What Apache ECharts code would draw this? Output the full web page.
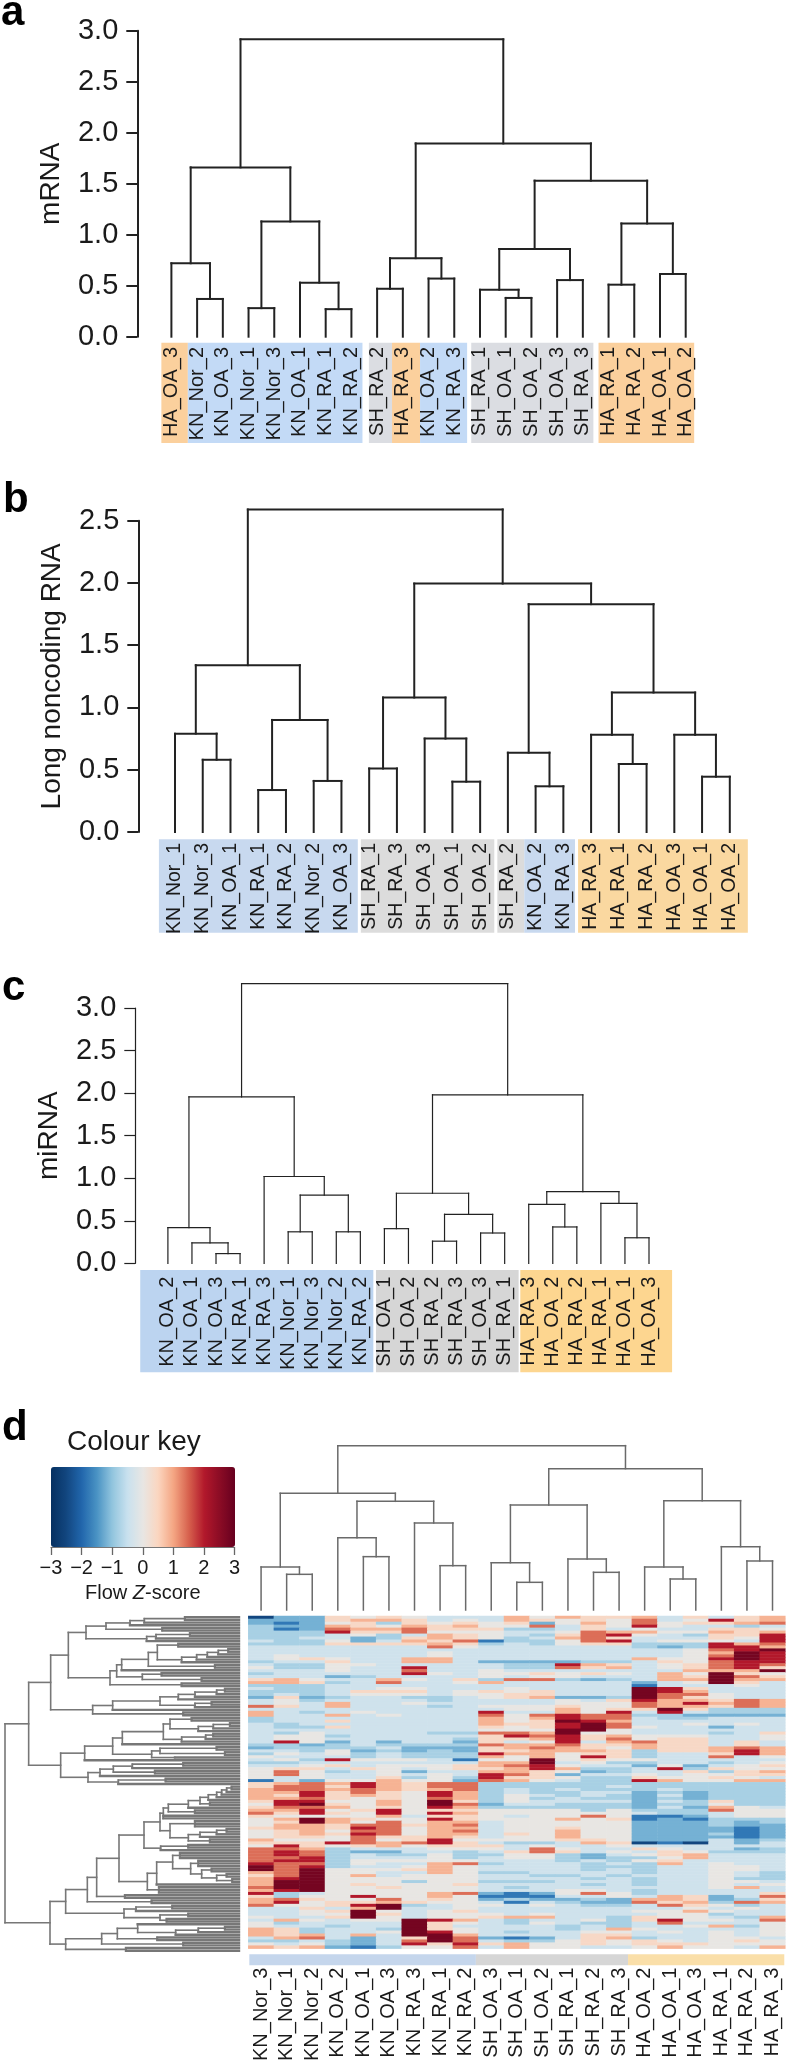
<!DOCTYPE html>
<html><head><meta charset="utf-8">
<style>html,body{margin:0;padding:0;background:#fff}#c{width:786px;height:2064px}</style>
<script src="https://cdn.jsdelivr.net/npm/echarts@6/dist/echarts.min.js"></script></head>
<body><div id="c"></div>
<script>
// ---------- Panel a ----------
const leavesA=['HA_OA_3','KN_Nor_2','KN_OA_3','KN_Nor_1','KN_Nor_3','KN_OA_1','KN_RA_1','KN_RA_2','SH_RA_2','HA_RA_3','KN_OA_2','KN_RA_3','SH_RA_1','SH_OA_1','SH_OA_2','SH_OA_3','SH_RA_3','HA_RA_1','HA_RA_2','HA_OA_1','HA_OA_2'];
// tree nodes: [height, child, child...]; a bare number n means n leaves
const treeA=[2.915,[1.66,[.72,1,[.37,2]],[1.13,[.28,2],[.53,1,[.27,2]]]],[1.895,[.77,[.47,2],[.57,2]],[1.53,[.86,[.46,1,[.38,2]],[.555,2]],[1.11,[.51,2],[.615,2]]]]];
const stripA=[[-.39,.64,2],[.64,7.43,0],[7.68,8.58,1],[8.58,9.67,2],[9.67,11.5,0],[11.66,16.41,1],[16.61,20.33,2]];
// ---------- Panel b ----------
const leavesB=['KN_Nor_1','KN_Nor_3','KN_OA_1','KN_RA_1','KN_RA_2','KN_Nor_2','KN_OA_3','SH_RA_1','SH_RA_3','SH_OA_3','SH_OA_1','SH_OA_2','SH_RA_2','KN_OA_2','KN_RA_3','HA_RA_3','HA_RA_1','HA_RA_2','HA_OA_3','HA_OA_1','HA_OA_2'];
const treeB=[2.59,[1.34,[.79,1,[.58,2]],[.9,[.337,2],[.41,2]]],[1.995,[1.08,[.51,2],[.75,1,[.404,2]]],[1.83,[.637,1,[.367,2]],[1.12,[.78,1,[.546,2]],[.78,1,[.444,2]]]]]];
const stripB=[[-.58,6.59,0],[6.7,11.51,1],[11.62,12.59,1],[12.59,14.42,0],[14.53,20.65,2]];
// ---------- Panel c ----------
const leavesC=['KN_OA_2','KN_OA_1','KN_OA_3','KN_RA_1','KN_RA_3','KN_Nor_1','KN_Nor_3','KN_Nor_2','KN_RA_2','SH_OA_1','SH_OA_2','SH_RA_2','SH_RA_3','SH_OA_3','SH_RA_1','HA_RA_3','HA_OA_2','HA_RA_2','HA_RA_1','HA_OA_1','HA_OA_3'];
const treeC=[3.286,[1.955,[.42,1,[.24,1,[.114,2]]],[1.02,1,[.8,[.37,2],[.37,2]]]],[1.98,[.823,[.407,2],[.576,[.26,2],[.356,2]]],[.842,[.693,1,[.427,2]],[.705,1,[.3,2]]]]];
const stripC=[[-1.15,8.54,0],[8.65,14.58,1],[14.65,20.96,2]];
// ---------- Panel d ----------
const columnsD=['KN_Nor_3','KN_Nor_1','KN_Nor_2','KN_OA_2','KN_OA_1','KN_OA_3','KN_RA_3','KN_RA_1','KN_RA_2','SH_OA_3','SH_OA_1','SH_OA_2','SH_RA_1','SH_RA_2','SH_RA_3','HA_OA_2','HA_OA_1','HA_OA_3','HA_RA_1','HA_RA_2','HA_RA_3'];
const treeColD=[4.93,[3.5,[1.29,1,[1.07,2]],[3.26,[2.17,1,[1.6,2]],[2.61,1,[1.33,2]]]],[4.24,[3.15,[1.42,1,[.83,2]],[1.53,1,[1.13,2]]],[3.28,[1.29,1,[.93,2]],[1.9,1,[1.47,2]]]]];
const stripD=[[-.46,8.4,0],[8.4,14.35,1],[14.35,20.46,2]];
const treeRowD=[7.02,
 [6.31,
  [5.65,
   [5.12,
    [4.59,
     [3.99,[3.27,[2.84,[1.62,2],1],1],[2.3,2]],
     [2.77,[2.49,[1.47,2],1],1]],
    [3.87,
     [3.67,
      [3.52,[2.72,[2.45,[1.82,2],[1.72,[1.27,[.95,[.62,[.32,2],1],1],1],1]],[.72,2]],1],
      [2.9,[2.32,2],[1.12,2]]],
     [1.72,2]]],
   [4.39,
    [3.79,[2.37,[1.82,[1.32,[.67,[.42,2],1],1],1],[1.32,[.82,2],1]],1],
    [1.67,2]]],
  [5.35,
   [4.63,
    [3.79,
     [3.5,[2.27,[2.07,[1.42,2],[1.22,[.77,[.27,2],1],1]],[1.72,[1.0,[.77,2],1],1]],1],
     [2.62,[2.37,[.67,2],[.42,2]],[1.92,1]]],
    1],
   [4.53,[4.17,[3.77,[3.2,[1.67,2],1],[2.52,2]],1],[3.62,[2.2,2],1]]]],
 [5.67,
  [5.2,
   [4.55,
    [4.27,
     [3.6,
      [2.85,
       [2.37,
        [2.27,[2.12,[1.52,[1.17,[.92,[.67,[.52,[.37,[.22,2],1],1],1],1],[.87,2]],1],[1.32,2]],2],
        [2.07,[1.32,3],[1.52,[1.17,[.67,[.37,2],1],1],[.87,2]]]],
       [2.35,[1.52,2],1]],
      [2.75,
       [2.47,[1.99,[1.77,3],[1.45,[1.22,3],[1.12,[.82,2],[.67,[.37,2],[.2,2]]]]],1],
       [2.4,3]]],
     [3.42,2]],
    [2.62,2]],
   [3.45,[3.09,[2,2],1],[2.37,[1.52,2],[2.17,2]]]],
  [5.2,
   [4.12,[3.65,[3.04,1,[1.9,[1.22,[.42,2],1],1]],[2.45,2]],[1.67,2]],
   [3.39,2]]]];
const levelNames='abcdefghijk';
const levelValues=[-2.5,-1.8,-1.2,-.8,-.4,0,.4,.85,1.4,2.0,2.8];
const heatRows=[
'acc gfg fee ehf hgg heg egh','ccc ghh gef ehg fgf ief jgh','cbc fgd gfg fgc fhf ifg ghi','dcc hgf hgh ffi egf jfe ede','dbc ihh igg gdd ege fee ggf',
'ddd jgg iff fee fih hff hgh','ddd efd ehg fed gij fed ggj','dde ecd ghg fde hig eee gfj','edd fce hgi bdd fij eff fej','ddd ggg ghg ded fgg ddd jhi',
'eee eee eif eee eee dcd jjh','eee eee eee eee eee eef ijk','eee eee efe eee eee eef hkj','efe eee efe eee eee eef ikj','efg fee hhe eee eee hff jkj',
'dee gee hhe ccc cdd egf ijj','edd ffe eee edd jhg efg iji','fdd fee jee edd igh efg ijg','eee fee iee fee eee eeh hhk','dee eee jfe ffg fgf ehf kgf',
'eee cde eee fef fee ehg kig','ghf eeh feg dii dcd ehh khh','hhg dei eef hee eee cef kge','ddd eee eee eee eee bee efe','edd eef fee efe eee kjg eee',
'ddd egg gef gfg eee kjh eee','ded eff fef fgg eee kii fee','cgc dee dde fgh ccd kig fee','efd eee ede eee feg jhh gih','efe hee fee eee fff ihj hih',
'ige hee ede fff gff ihh gih','eee eee eee eff hfg gkg ddd','hed efe eee jee hfj eje ddd','hee hef eee ifi jii ddc ccc','dee eee eee hfh jii edd eee',
'dee gee eee hfg kjh eee eee','ede eee eee hgg jki eef efe','edd gee eee gfg jki fee cee','eee eee eee fff kkf eee eee',
'edf eee edd iih kff eee deg','eff dee eee gji jgh fff eef','eff eee eed ggh jgi fgg eef','ejf cec eec gef jeh igg ege','ddc ded ddd ihh igg hgg ege',
'cdd dde ccc ghi hgf hgg hih','eed fcd cdc ggh hhg dgg hjh','dfe fde ddd jhh fgg dee gjh','fee ede ddd hfh fjg dee ief','efd jff feb ffk fgf fee eee',
'dde eee eee hhk efd dee def','eef gef ffg hij fee cfc efg','fgg egf efg ghj hdd ejd gff','fif def cee hhg fcd eeg dgh','fif eef efe jig cee fef fgg',
'fef eeg dfd jgg fdd gff gfe','bec ffh ffc ihf edd jhf fhh','ghi hjh gii ddd ddd ddd ddd','gii gjh gii ddd dde ddd ddd','hii hih ghi ded edd ded ddd',
'hhj gig fjh ded dee cdc ddd','hgj ghg fjh dfe ded cec ddd','hhi gfg fih dfd edd cdc ddd','gjj ffh fkg dfe eee ced gdd','fjk gfh fki cee ddd cdd fdd',
'gii hfg fjh ddd ddd cec hfe','hhj fgj fgg fff fdf ddd iff','igj gfj fjh fff fff edd eff','gff ffh egg fef fif bbc eff','fhk hgf fjg fff hfg bcb ddd',
'fgk hfi fhh eff fff ccc dcd','fhh gii ghi eff fff ccc dcc','ghh gji fhh eff gff ccc cbc','fgh fii fhi eff hff ccc cbc','fgh gji fhh egf hff ccc dbc',
'fgg fig ghg eff hff ccc cbc','hff fif gjf fff ggf ccc ecd','ggg jih ijg edd ehg aba ece','fjg fgh fgg gef eef eee eee','iih dee eff fei fee gfe ecd',
'iji dcc eed egi gef egf ddd','iji ded dfd dff dce fgh eee','iij dee efd eff dcd dfh eee','ijj dff fff eee ded fge eee','jii dfe ehi dee ede dhe fee',
'kij dee fhf eee edd dee ffe','kik fff ghf eee ede dee ffe','hik ffe ehf dde eee dee fed','gik fhe fff eed ded eee fed','hjk fff fff eee ede dee fdd',
'hkk fff dff ddd eee dee ffe','hkk fgf ffg eee ede dee fef','ikk ffg fff ede eee eee fhe','hjk fff fff eee ffe dee eee','jde fff fhi cbc fif dee eeg',
'gdf fjf fhf bbb eef ehg cei','hig ffi fgf cdc cdc hhg cdg','hjf ggh gff ebe dcc igh dih','iff gjk def fef edd eig fde','eeg ehk eef eee eee eef efe',
'eef gkf efg eee eee ffh fee','eef fkg eff fef eee eff dee','fee gkf eff ghh eed gff edh','ehf eff kjh ede efd gjf fei','fde eee kgf edf edd eie eef',
'fee dee kge eee ded eef hdf','hgd eed kgf eee deh fee eef','hgd eef kjf ede eff efe fef','hgh ehe kkh eee egg eee fef','ehi ece gki cbc egh dee ffe',
'dde dce iki edd fgf gfe fgf','fef dce jgj ghf fgf ggg fff','hgh cbd ffi ehf fee fhf feh'];
const keyTicks=[-3,-2,-1,0,1,2,3];
const keyColors=['#053061','#12467f','#2166ac','#4a93c4','#92c5de','#c9e1ee','#e8e6e3','#fbd5bf','#f4a582','#d6604d','#b2182b','#8b0c25','#67001f'];

const SANS='"Liberation Sans",Arial,sans-serif';
const grid=[],xAxis=[],yAxis=[],series=[];

function layoutTree(tree){
  const segs=[];let next=0;
  function walk(n){
    const kids=[];
    for(const c of n.slice(1)){
      if(typeof c==='number'){for(let i=0;i<c;i++)kids.push({p:next++,h:0});}
      else kids.push({p:walk(c),h:c[0]});
    }
    const h=n[0];
    kids.forEach(k=>segs.push([k.p,k.h,k.p,h,k.h===0?1:0]));
    const a=kids[0].p,b=kids[kids.length-1].p;
    segs.push([a,h,b,h,0]);
    return (a+b)/2;
  }
  walk(tree);
  return {segs,count:next};
}
function segSeries(xi,yi,segs,color,lw,swap,leafLw){
  series.push({type:'custom',xAxisIndex:xi,yAxisIndex:yi,silent:true,animation:false,z:3,clip:false,
    data:segs,
    renderItem(p,api){
      const a=[api.value(0),api.value(1)],b=[api.value(2),api.value(3)];
      const s=api.coord(swap?[a[1],a[0]]:a),e=api.coord(swap?[b[1],b[0]]:b);
      return {type:'line',shape:{x1:s[0],y1:s[1],x2:e[0],y2:e[1]},style:{stroke:color,lineWidth:(leafLw&&api.value(4))?leafLw:lw,lineCap:'square'}};
    }});
}
function stripSeries(xi,yi,segs,palette){
  series.push({type:'custom',xAxisIndex:xi,yAxisIndex:yi,silent:true,animation:false,z:0,
    data:segs,
    renderItem(p,api){
      const s=api.coord([api.value(0),1]),e=api.coord([api.value(1),0]);
      return {type:'rect',shape:{x:s[0],y:s[1],width:e[0]-s[0],height:e[1]-s[1]},style:{fill:palette[api.value(2)]}};
    }});
}
function dendroPanel(o){
  const gi=grid.length;
  grid.push({left:o.x0,width:o.x1-o.x0,top:o.yTop,height:o.y0-o.yTop,containLabel:false});
  const xi=xAxis.length;
  xAxis.push({type:'value',gridIndex:gi,min:0,max:20,show:false});
  xAxis.push({type:'category',gridIndex:gi,data:o.leaves,boundaryGap:false,position:'bottom',z:5,
    axisLine:{show:false},axisTick:{show:false},splitLine:{show:false},
    axisLabel:{rotate:90,interval:0,margin:o.labelTop-o.y0,fontFamily:SANS,fontSize:o.labelSize,color:'#1a1a1a',hideOverlap:false}});
  const yi=yAxis.length;
  yAxis.push({type:'value',gridIndex:gi,min:0,max:o.yMax,interval:.5,position:'left',offset:o.x0-o.axisX,
    name:o.title,nameLocation:'middle',nameRotate:90,nameGap:o.nameGap,nameTextStyle:{fontFamily:SANS,fontSize:28,color:'#1a1a1a'},
    axisLine:{show:true,onZero:false,lineStyle:{color:'#222',width:o.lw}},
    axisTick:{show:true,length:11,lineStyle:{color:'#222',width:o.lw}},
    splitLine:{show:false},
    axisLabel:{margin:19,fontFamily:SANS,fontSize:29,color:'#1a1a1a',formatter:v=>v.toFixed(1)}});
  segSeries(xi,yi,layoutTree(o.tree).segs,'#222',o.lw,false);
  // label strip
  const gs=grid.length;
  grid.push({left:o.x0,width:o.x1-o.x0,top:o.stripTop,height:o.stripH});
  const xs=xAxis.length;
  xAxis.push({type:'value',gridIndex:gs,min:0,max:20,show:false});
  const ys=yAxis.length;
  yAxis.push({type:'value',gridIndex:gs,min:0,max:1,show:false});
  stripSeries(xs,ys,o.strip,o.palette);
}
dendroPanel({leaves:leavesA,tree:treeA,strip:stripA,palette:['#c3daf6','#dbdde2','#fbd09d'],x0:171.4,x1:685.7,yTop:30.7,y0:336.7,axisX:137.3,yMax:3,title:'mRNA',nameGap:72,lw:2,labelTop:347,labelSize:20,stripTop:342.7,stripH:100.3});
dendroPanel({leaves:leavesB,tree:treeB,strip:stripB,palette:['#c8d9ef','#dcdcdc','#fad8a0'],x0:175,x1:729.8,yTop:520.7,y0:832,axisX:138.3,yMax:2.5,title:'Long noncoding RNA',nameGap:72,lw:2,labelTop:843,labelSize:19.5,stripTop:839.3,stripH:93.4});
dendroPanel({leaves:leavesC,tree:treeC,strip:stripC,palette:['#bcd4f0','#d6d6d6','#fdd690'],x0:167.9,x1:649,yTop:1008,y0:1263.3,axisX:135.3,yMax:3,title:'miRNA',nameGap:72,lw:1.2,labelTop:1276.7,labelSize:20,stripTop:1270,stripH:102.3});

// Panel d heatmap
const HL=248.3,HW=537,HT=1616,HH=336;
const cells=[];
heatRows.forEach((r,ri)=>{[...r.replace(/ /g,'')].forEach((ch,ci)=>cells.push([ci,ri,levelValues[levelNames.indexOf(ch)]]));});
let gi=grid.length,xi=xAxis.length,yi=yAxis.length;
grid.push({left:HL,width:HW,top:HT,height:HH});
xAxis.push({type:'category',gridIndex:gi,data:columnsD,position:'bottom',
  axisLine:{show:false},axisTick:{show:false},splitLine:{show:false},
  axisLabel:{rotate:90,interval:0,margin:19,fontFamily:SANS,fontSize:20,color:'#1a1a1a',hideOverlap:false}});
yAxis.push({type:'category',gridIndex:gi,data:heatRows.map((_,i)=>i),inverse:true,show:false});
const heatIndex=series.length;
series.push({type:'heatmap',xAxisIndex:xi,yAxisIndex:yi,data:cells,silent:true,animation:false,progressive:0,itemStyle:{borderWidth:0}});

// column dendrogram
gi=grid.length;xi=xAxis.length;yi=yAxis.length;
grid.push({left:HL+HW/42,width:HW*20/21,top:1443.3,height:166.7});
xAxis.push({type:'value',gridIndex:gi,min:0,max:20,show:false});
yAxis.push({type:'value',gridIndex:gi,min:0,max:5,show:false});
segSeries(xi,yi,layoutTree(treeColD).segs,'#6a6a6a',1.5,false);

// column group strip
gi=grid.length;xi=xAxis.length;yi=yAxis.length;
grid.push({left:HL,width:HW,top:1954.3,height:11});
xAxis.push({type:'value',gridIndex:gi,min:-.5,max:20.5,show:false});
yAxis.push({type:'value',gridIndex:gi,min:0,max:1,show:false});
stripSeries(xi,yi,stripD,['#c5d6ec','#d6d6d6','#fadfa9']);

// row dendrogram
gi=grid.length;xi=xAxis.length;yi=yAxis.length;
const rowLayout=layoutTree(treeRowD);
grid.push({left:5,width:234,top:HT,height:HH});
xAxis.push({type:'value',gridIndex:gi,min:0,max:7.02,inverse:true,show:false});
yAxis.push({type:'value',gridIndex:gi,min:-.5,max:rowLayout.count-.5,inverse:true,show:false});
segSeries(xi,yi,rowLayout.segs,'#777',1.6,true,2.4);

// colour key axis
gi=grid.length;xi=xAxis.length;yi=yAxis.length;
grid.push({left:51,width:183.5,top:1546,height:1});
xAxis.push({type:'value',gridIndex:gi,min:-3,max:3,interval:1,position:'bottom',
  name:'{a|Flow }{b|Z}{a|-score}',nameLocation:'middle',nameGap:36,
  nameTextStyle:{rich:{a:{fontFamily:SANS,fontSize:20,color:'#1a1a1a'},b:{fontFamily:SANS,fontSize:20,fontStyle:'italic',color:'#1a1a1a'}}},
  axisLine:{show:true,onZero:false,lineStyle:{color:'#777',width:1}},
  axisTick:{show:true,length:8,lineStyle:{color:'#666',width:1.3}},splitLine:{show:false},
  axisLabel:{margin:11,fontFamily:SANS,fontSize:20,color:'#1a1a1a',showMinLabel:true,showMaxLabel:true,formatter:v=>String(v).replace('-','\u2212')}});
yAxis.push({type:'value',gridIndex:gi,min:0,max:1,show:false});

const labels=[['a',1,-8],['b',3,479],['c',2,967],['d',2,1407]].map(([t,x,y])=>({type:'text',x,y,silent:true,style:{text:t,fontFamily:SANS,fontWeight:'bold',fontSize:42,fill:'#000'}}));
labels.push({type:'text',x:67,y:1428,silent:true,style:{text:'Colour key',fontFamily:SANS,fontSize:28,fill:'#1a1a1a'}});

const chart=echarts.init(document.getElementById('c'),null,{renderer:'canvas',width:786,height:2064});
chart.setOption({animation:false,backgroundColor:'#fff',tooltip:{show:false},grid,xAxis,yAxis,series,graphic:labels,
  visualMap:{type:'continuous',seriesIndex:heatIndex,min:-3,max:3,orient:'horizontal',left:51,top:1467,itemWidth:80,itemHeight:184,showLabel:false,text:null,calculable:false,padding:0,hoverLink:false,inRange:{color:keyColors}}});
</script></body></html>
